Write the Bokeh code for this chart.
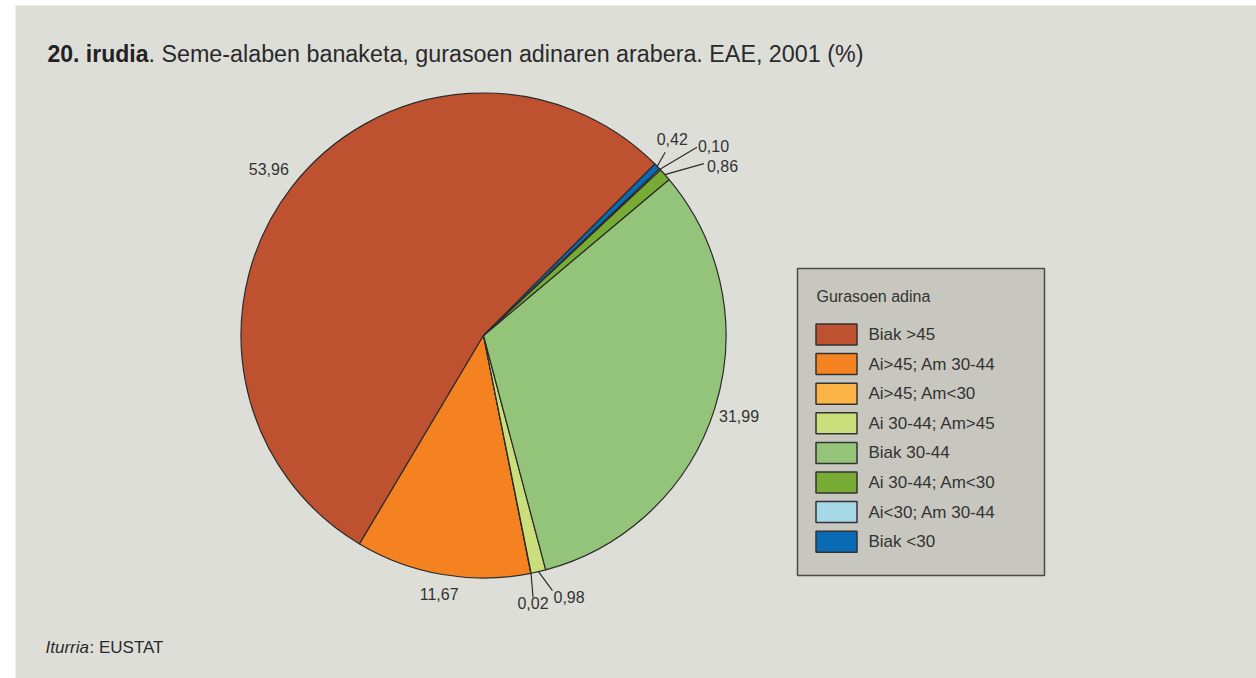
import math
from bokeh.plotting import figure
from bokeh.models import Range1d, ColumnDataSource
from bokeh.core.properties import value
from bokeh.embed import file_html
from bokeh.resources import INLINE

# ---------------- data ----------------
categories = ["Biak  >45", "Ai>45; Am 30-44", "Ai>45; Am<30", "Ai 30-44; Am>45",
              "Biak 30-44", "Ai 30-44; Am<30", "Ai<30; Am 30-44", "Biak <30"]
shares = [53.96, 11.67, 0.02, 0.98, 31.99, 0.86, 0.10, 0.42]
title_bold = "20. irudia"
title_rest = ". Seme-alaben banaketa, gurasoen adinaren arabera. EAE, 2001 (%)"
legend_title = "Gurasoen adina"
source_label = "Iturria"
source_rest = ": EUSTAT"

# ---------------- style ----------------
colors = ["#BE5130", "#F58220", "#FDB446", "#CADF7C",
          "#93C47A", "#78AB34", "#A7D8E8", "#0A6BB5"]
W, H = 1256, 678
BG = "#DEDED8"
LEG_BG = "#C8C7BF"
EDGE = "#2B2B2B"
TXT = "#333333"
SANS = value("Liberation Sans")
CX, CY, R = 483.0, -335.0, 242.5
START_DEG = 45.0

# label placement per slice (screen-pixel offsets)
label_style = [
    dict(kind="radial", r=272),
    dict(kind="radial", r=262),
    dict(kind="leader", lead=(2, 24), off=(0, 0), align="center", base="top"),
    dict(kind="leader", lead=(14, 19), off=(1, 6), align="left", base="middle"),
    dict(kind="radial", r=268),
    dict(kind="leader", lead=(39, -11), off=(3, 2), align="left", base="middle"),
    dict(kind="leader", lead=(37, -22), off=(1, -1), align="left", base="middle"),
    dict(kind="leader", lead=(8, -14), off=(7, -13), align="center", base="middle"),
]

p = figure(width=W, height=H, x_range=Range1d(0, W), y_range=Range1d(-H, 0),
           output_backend="svg", toolbar_location=None, min_border=0,
           x_axis_type=None, y_axis_type=None)
p.outline_line_color = None
p.background_fill_color = "white"
p.border_fill_color = "white"

# panel background
p.quad(left=[15], right=[W], top=[-5], bottom=[-H], fill_color=BG, line_color=None)

# ---------------- pie ----------------
total = sum(shares)
starts, ends = [], []
acc = 0.0
for v in shares:
    starts.append(math.radians(START_DEG + acc / total * 360.0))
    acc += v
    ends.append(math.radians(START_DEG + acc / total * 360.0))
src = ColumnDataSource(dict(start=starts, end=ends, color=colors))
p.wedge(x=CX, y=CY, radius=R, start_angle="start", end_angle="end", direction="anticlock",
        fill_color="color", line_color=EDGE, line_width=1.2, source=src)

# ---------------- slice labels ----------------
for v, a0, a1, st in zip(shares, starts, ends, label_style):
    mid = (a0 + a1) / 2.0
    txt = f"{v:.2f}".replace(".", ",")
    if st["kind"] == "radial":
        x = CX + st["r"] * math.cos(mid)
        y = CY + st["r"] * math.sin(mid)
        p.text(x=[x], y=[y], text=[txt], text_font=SANS, text_font_size="16px",
               text_color=TXT, text_align="center", text_baseline="middle")
    else:
        rx = CX + R * math.cos(mid)
        ry = CY + R * math.sin(mid)
        ex = rx + st["lead"][0]
        ey = ry - st["lead"][1]
        p.segment(x0=[rx], y0=[ry], x1=[ex], y1=[ey], line_color=EDGE, line_width=1.2)
        p.text(x=[ex + st["off"][0]], y=[ey - st["off"][1]], text=[txt], text_font=SANS,
               text_font_size="16px", text_color=TXT, text_align=st["align"],
               text_baseline=st["base"])

# ---------------- legend ----------------
p.quad(left=[797], right=[1044], top=[-268], bottom=[-575], fill_color=LEG_BG,
       line_color="#4A4A4A", line_width=1.5)
p.text(x=[816], y=[-296], text=[legend_title], text_font=SANS, text_font_size="16px",
       text_color=TXT, text_align="left", text_baseline="middle")
sw_y = [-(334 + i * 29.6) for i in range(len(categories))]
p.rect(x=[836] * len(categories), y=sw_y, width=41, height=21, fill_color=colors,
       line_color="#333333", line_width=1.5)
p.text(x=[868] * len(categories), y=sw_y, text=categories, text_font=SANS,
       text_font_size="17px", text_color=TXT, text_align="left", text_baseline="middle")

# ---------------- title & source ----------------
p.text(x=[47], y=[-53], text=[title_bold], text_font=SANS, text_font_style="bold",
       text_font_size="23px", text_color="#222222", text_baseline="alphabetic")
p.text(x=[148], y=[-53], text=[title_rest], text_font=SANS, text_font_size="23.3px",
       text_color="#2A2A2A", text_baseline="alphabetic")
p.text(x=[45], y=[-647], text=[source_label], text_font=SANS, text_font_style="italic",
       text_font_size="17px", text_color="#2A2A2A", text_baseline="alphabetic")
p.text(x=[89], y=[-647], text=[source_rest], text_font=SANS, text_font_size="17px",
       text_color="#2A2A2A", text_baseline="alphabetic")

open("out.html", "w").write(file_html(p, INLINE))
